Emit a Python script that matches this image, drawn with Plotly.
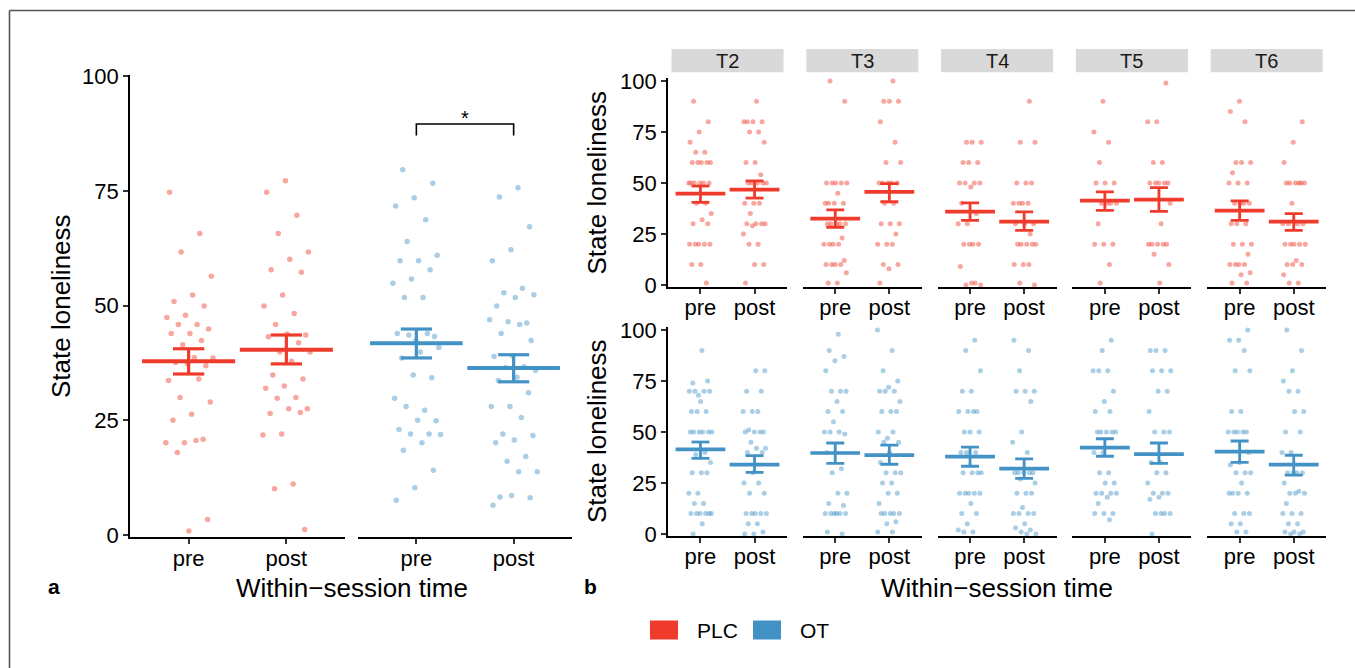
import plotly.graph_objects as go

W, H = 1355, 668
RED = "#EF3B2C"
BLUE = "#4292C6"
FONT = "Liberation Sans, Arial, Helvetica, sans-serif"

TIMES = ["pre", "post"]
GROUPS = ["PLC", "OT"]
SESSIONS = ["T2", "T3", "T4", "T5", "T6"]
Y_TICKS = [0, 25, 50, 75, 100]

# ---------------- panel a: values ----------------
A_PLC_PRE = [74.7, 65.7, 61.7, 56.4, 52.3, 50.9, 49.9, 47.9, 47.4, 45.9, 45.9, 44.9,
             43.9, 43.9, 42.4, 41.5, 38.6, 38.7, 37.6, 36.9, 37.4, 33.7, 34.0, 30.0,
             29.0, 26.3, 25.0, 20.9, 20.1, 20.1, 20.6, 18.0, 3.4, 0.9]
A_PLC_POST = [77.2, 74.7, 69.7, 65.7, 61.7, 60.1, 57.8, 57.3, 52.3, 49.9, 48.3, 45.9,
              43.6, 43.8, 43.2, 41.9, 39.9, 39.9, 37.9, 34.9, 34.0, 32.5, 32.0, 30.0,
              29.8, 27.5, 27.5, 26.5, 26.7, 22.0, 21.8, 11.1, 10.1, 1.2]
A_OT_PRE = [79.6, 76.7, 73.5, 71.7, 68.7, 64.0, 61.0, 59.8, 59.8, 57.8, 55.8, 54.9,
            51.8, 51.8, 43.3, 42.4, 43.9, 43.9, 43.6, 40.9, 39.9, 38.6, 34.3, 34.9,
            29.8, 27.2, 28.0, 24.9, 25.0, 23.0, 22.0, 22.0, 21.9, 20.1, 18.5, 14.1,
            10.3, 7.6]
A_OT_POST = [75.7, 73.7, 67.2, 62.2, 59.8, 53.8, 52.8, 52.4, 51.8, 49.9, 46.2, 46.5,
             46.9, 45.9, 43.9, 42.4, 39.0, 38.9, 36.7, 36.5, 35.9, 34.4, 33.7, 31.0,
             28.0, 28.0, 25.6, 22.0, 21.7, 20.7, 20.1, 17.1, 16.1, 13.8, 13.8, 8.3,
             8.1, 8.6, 6.5]
A_MEAN = {"PLC": [37.9, 40.4], "OT": [41.8, 36.4]}
A_SE_HI = {"PLC": [40.6, 43.6], "OT": [44.9, 39.3]}
A_SE_LO = {"PLC": [35.1, 37.3], "OT": [38.6, 33.4]}
SIG_BRACKET = [87.1, 89.6]   # leg bottom, bracket top (OT pre vs post)
SIG_LABEL = "*"

# ---------------- panel b: values ----------------
B_PLC_PRE = [
    [90, 80, 75, 70, 65, 65, 60, 60, 60, 60, 60, 50, 50, 50, 50, 50, 50, 40, 40, 35, 32,
     30, 30, 20, 20, 20, 20, 20, 10, 10, 1],
    [100, 90, 50, 50, 50, 50, 50, 45, 40, 40, 40, 40, 30, 30, 30, 30, 30, 23, 20, 20, 20,
     20, 12, 10, 10, 10, 10, 6, 1, 1],
    [70, 70, 70, 60, 60, 60, 50, 50, 50, 50, 48, 40, 35, 30, 30, 20, 20, 20, 20, 9, 1, 0,
     0, 1],
    [90, 75, 70, 60, 50, 50, 50, 40, 40, 40, 40, 30, 20, 20, 20, 10, 1],
    [90, 85, 80, 60, 60, 60, 55, 50, 50, 50, 40, 40, 40, 40, 30, 30, 30, 20, 20, 20, 15,
     10, 10, 10, 10, 6, 5, 1, 1],
]
B_PLC_POST = [
    [90, 80, 80, 80, 80, 75, 75, 70, 60, 60, 54, 50, 50, 50, 50, 50, 40, 40, 40, 35, 30,
     30, 30, 30, 29, 25, 20, 20, 10, 10, 1],
    [100, 90, 90, 90, 80, 70, 60, 60, 50, 50, 50, 50, 50, 40, 40, 30, 30, 30, 25, 20, 20,
     20, 10, 10, 8, 1],
    [90, 70, 70, 50, 50, 50, 40, 40, 40, 40, 30, 30, 30, 25, 20, 20, 20, 20, 20, 10, 10,
     10, 1, 0],
    [99, 80, 80, 60, 60, 50, 50, 50, 50, 50, 40, 30, 20, 20, 20, 20, 20, 15, 10, 1],
    [80, 70, 60, 50, 50, 50, 50, 50, 50, 40, 30, 30, 30, 30, 20, 20, 20, 20, 20, 12, 10,
     10, 10, 5, 1, 1],
]
B_OT_PRE = [
    [90, 74, 75, 68, 70, 70, 70, 70, 65, 60, 60, 60, 50, 50, 50, 50, 50, 50, 40, 39, 35,
     30, 30, 30, 20, 20, 15, 15, 10, 10, 10, 10, 10, 10, 5, 0],
    [98, 90, 87, 85, 80, 70, 70, 70, 65, 60, 60, 55, 50, 50, 50, 49, 40, 40, 32, 30, 20,
     20, 15, 14, 10, 10, 10, 10, 10, 10, 1, 0],
    [95, 90, 80, 70, 70, 60, 60, 60, 60, 50, 50, 50, 40, 40, 40, 30, 30, 30, 30, 20, 20,
     20, 20, 20, 15, 10, 10, 5, 2, 1, 1],
    [95, 90, 80, 80, 80, 70, 65, 60, 60, 50, 50, 50, 50, 50, 40, 40, 30, 30, 25, 25, 20,
     20, 20, 20, 18, 15, 10, 10, 10, 7],
    [100, 95, 95, 90, 80, 80, 60, 60, 50, 50, 50, 50, 50, 40, 35, 34, 30, 30, 30, 25, 20,
     20, 20, 20, 10, 10, 10, 5, 5, 1, 1],
]
B_OT_POST = [
    [80, 80, 70, 70, 60, 60, 60, 51, 50, 50, 50, 50, 45, 42, 42, 40, 40, 30, 25, 25, 20,
     20, 10, 10, 10, 10, 10, 5, 5, 1, 0, 0],
    [100, 90, 80, 75, 72, 70, 70, 70, 65, 60, 60, 60, 47, 50, 50, 45, 45, 40, 35, 30, 30,
     30, 25, 25, 20, 20, 15, 10, 10, 10, 10, 10, 6, 5, 1, 1],
    [95, 90, 80, 70, 70, 70, 65, 50, 45, 40, 30, 30, 30, 30, 30, 27, 25, 20, 20, 20, 13,
     10, 10, 10, 10, 5, 3, 2, 1, 0, 0],
    [90, 90, 90, 80, 80, 80, 70, 70, 60, 50, 50, 50, 35, 35, 30, 30, 25, 20, 20, 20, 18,
     17, 10, 10, 10, 10, 0],
    [100, 90, 80, 75, 70, 70, 60, 60, 50, 50, 40, 40, 30, 30, 30, 30, 25, 21, 20, 20, 20,
     15, 10, 10, 10, 5, 5, 1, 1, 1, 0, 0],
]
B_MEAN = {"PLC": [[44.8, 32.5, 35.9, 41.3, 36.4], [46.7, 45.6, 31.0, 41.8, 31.0]],
          "OT": [[41.5, 39.7, 37.9, 42.3, 40.4], [34.0, 38.7, 32.0, 39.2, 34.0]]}
B_SE_HI = {"PLC": [[48.5, 36.8, 40.2, 45.6, 41.2], [51.0, 49.7, 35.8, 47.7, 35.0]],
           "OT": [[45.1, 44.6, 42.6, 46.7, 45.6], [38.4, 43.6, 36.8, 44.6, 38.6]]}
B_SE_LO = {"PLC": [[40.5, 28.3, 31.7, 36.6, 31.7], [42.6, 40.8, 26.8, 36.1, 26.8]],
           "OT": [[37.1, 34.6, 33.2, 38.1, 35.1], [30.2, 34.2, 27.3, 34.6, 28.9]]}

COLORS = {"PLC": RED, "OT": BLUE}

# ---------------- helpers ----------------
def xd(a, b):
    return [a / W, b / W]


def yd(top, bottom):
    return [1 - bottom / H, 1 - top / H]


def jitter(n, width, phase):
    return [((i * 0.6180339887 + phase) % 1.0 - 0.5) * 2 * width for i in range(n)]


fig = go.Figure()
layout = {}

TICK_FONT = dict(family=FONT, size=22, color="black")
AX_LINE = dict(showline=True, linecolor="black", linewidth=1.8, ticks="outside",
               ticklen=5, tickwidth=1.8, tickcolor="#333333", showgrid=False,
               zeroline=False, fixedrange=True, tickfont=TICK_FONT, automargin=False)


def add_axes(k, xdom, ydom, yrange, show_y):
    xn = "xaxis" if k == 1 else f"xaxis{k}"
    yn = "yaxis" if k == 1 else f"yaxis{k}"
    ya = "y" if k == 1 else f"y{k}"
    xa = "x" if k == 1 else f"x{k}"
    layout[xn] = dict(AX_LINE, domain=xdom, anchor=ya, range=[0.4, 2.6],
                      tickvals=[1, 2], ticktext=TIMES, ticklabelstandoff=-5)
    if show_y:
        layout[yn] = dict(AX_LINE, domain=ydom, anchor=xa, range=yrange,
                          tickvals=Y_TICKS)
    else:
        layout[yn] = dict(domain=ydom, anchor=xa, range=yrange, visible=False,
                          fixedrange=True, automargin=False)
    return xa, ya


def add_group(xa, ya, values_by_time, means, his, los, color, jw, msize, hw, ww,
              mw, ew, phase):
    for t, vals in enumerate(values_by_time):
        xc = t + 1
        offs = jitter(len(vals), jw, phase + 0.37 * t)
        fig.add_trace(go.Scatter(
            x=[xc + o for o in offs], y=vals, xaxis=xa, yaxis=ya, mode="markers",
            marker=dict(color=color, size=msize, opacity=0.45, line=dict(width=0)),
            showlegend=False, hoverinfo="skip"))
    mx, my, ex, ey = [], [], [], []
    for t in range(len(values_by_time)):
        xc = t + 1
        mx += [xc - hw, xc + hw, None]
        my += [means[t], means[t], None]
        ex += [xc, xc, None, xc - ww, xc + ww, None, xc - ww, xc + ww, None]
        ey += [los[t], his[t], None, los[t], los[t], None, his[t], his[t], None]
    fig.add_trace(go.Scatter(x=ex, y=ey, xaxis=xa, yaxis=ya, mode="lines",
                             line=dict(color=color, width=ew), showlegend=False,
                             hoverinfo="skip"))
    fig.add_trace(go.Scatter(x=mx, y=my, xaxis=xa, yaxis=ya, mode="lines",
                             line=dict(color=color, width=mw), showlegend=False,
                             hoverinfo="skip"))


# ---------------- panel a ----------------
A_Y_RANGE = [-0.5, 100.3]
A_YDOM = yd(74.9, 537.3)
a_vals = {"PLC": [A_PLC_PRE, A_PLC_POST], "OT": [A_OT_PRE, A_OT_POST]}
a_xdoms = {"PLC": xd(130, 345), "OT": xd(358, 572)}
k = 1
a_axes = {}
for g in GROUPS:
    xa, ya = add_axes(k, a_xdoms[g], A_YDOM, A_Y_RANGE, show_y=(g == "PLC"))
    a_axes[g] = (xa, ya)
    add_group(xa, ya, a_vals[g], A_MEAN[g], A_SE_HI[g], A_SE_LO[g], COLORS[g],
              jw=0.25, msize=5.5, hw=0.476, ww=0.16, mw=4, ew=3.2, phase=0.11 * k)
    k += 1

# significance bracket on OT pre vs post
xa, ya = a_axes["OT"]
fig.add_trace(go.Scatter(x=[1, 1, 2, 2],
                         y=[SIG_BRACKET[0], SIG_BRACKET[1], SIG_BRACKET[1], SIG_BRACKET[0]],
                         xaxis=xa, yaxis=ya, mode="lines",
                         line=dict(color="black", width=1.6), showlegend=False,
                         hoverinfo="skip"))

# ---------------- panel b ----------------
B_Y_RANGE = [-1.0, 101.5]
row_ydom = {"PLC": yd(77.9, 287.0), "OT": yd(327.0, 536.0)}
b_vals = {"PLC": (B_PLC_PRE, B_PLC_POST), "OT": (B_OT_PRE, B_OT_POST)}
COL_START, COL_STEP, COL_W = 668.0, 134.8, 119.0
for g in GROUPS:
    for s, sess in enumerate(SESSIONS):
        x0 = COL_START + COL_STEP * s
        xa, ya = add_axes(k, xd(x0, x0 + COL_W), row_ydom[g], B_Y_RANGE, show_y=(s == 0))
        pre, post = b_vals[g]
        add_group(xa, ya, [pre[s], post[s]],
                  [B_MEAN[g][0][s], B_MEAN[g][1][s]],
                  [B_SE_HI[g][0][s], B_SE_HI[g][1][s]],
                  [B_SE_LO[g][0][s], B_SE_LO[g][1][s]],
                  COLORS[g], jw=0.22, msize=5, hw=0.46, ww=0.166, mw=3.7, ew=2.8,
                  phase=0.07 * k)
        k += 1

# ---------------- decorations ----------------
shapes = []
annotations = []

# frame (top and left edges)
shapes.append(dict(type="line", xref="paper", yref="paper", x0=9.5 / W, x1=1.0,
                   y0=1 - 10.5 / H, y1=1 - 10.5 / H, line=dict(color="#555555", width=1.6)))
shapes.append(dict(type="line", xref="paper", yref="paper", x0=9.5 / W, x1=9.5 / W,
                   y0=0, y1=1 - 10.5 / H, line=dict(color="#555555", width=1.6)))

# strips
for s, sess in enumerate(SESSIONS):
    x0 = COL_START + COL_STEP * s
    shapes.append(dict(type="rect", xref="paper", yref="paper",
                       x0=(x0 + 3.5) / W, x1=(x0 + COL_W - 3.5) / W,
                       y0=1 - 72.3 / H, y1=1 - 49 / H,
                       fillcolor="#D9D9D9", line=dict(width=0), layer="below"))
    annotations.append(dict(text=sess, xref="paper", yref="paper",
                            x=(x0 + COL_W / 2) / W, y=1 - 61 / H, showarrow=False,
                            xanchor="center", yanchor="middle",
                            font=dict(family=FONT, size=20, color="#1A1A1A")))

# axis titles
def title(text, x, y, angle=0, size=26):
    annotations.append(dict(text=text, xref="paper", yref="paper", x=x / W, y=1 - y / H,
                            showarrow=False, xanchor="center", yanchor="middle",
                            textangle=angle,
                            font=dict(family=FONT, size=size, color="black")))


title("State loneliness", 61, 306, angle=-90)
title("State loneliness", 597, 182.5, angle=-90)
title("State loneliness", 597, 431, angle=-90)
title("Within\u2212session time", 352, 588)
title("Within\u2212session time", 997, 588)

# panel letters
for letter, lx in (("a", 53.5), ("b", 590)):
    annotations.append(dict(text=f"<b>{letter}</b>", xref="paper", yref="paper",
                            x=lx / W, y=1 - 586 / H, showarrow=False,
                            xanchor="center", yanchor="middle",
                            font=dict(family=FONT, size=21, color="black")))

# significance star
xa, ya = a_axes["OT"]
annotations.append(dict(text=SIG_LABEL, xref=xa, yref=ya, x=1.5,
                        y=SIG_BRACKET[1] + 1.3, showarrow=False,
                        xanchor="center", yanchor="middle",
                        font=dict(family=FONT, size=20, color="black")))

# legend (manual keys)
legend_x = {"PLC": 650, "OT": 753}
for g in GROUPS:
    lx = legend_x[g]
    shapes.append(dict(type="rect", xref="paper", yref="paper",
                       x0=lx / W, x1=(lx + 28) / W, y0=1 - 639.5 / H, y1=1 - 620.5 / H,
                       fillcolor=COLORS[g], line=dict(width=0)))
    annotations.append(dict(text=g, xref="paper", yref="paper", x=(lx + 45) / W,
                            y=1 - 630.5 / H, showarrow=False, xanchor="left",
                            yanchor="middle",
                            font=dict(family=FONT, size=21, color="black")))

fig.update_layout(
    width=W, height=H, margin=dict(l=0, r=0, t=0, b=0, pad=0, autoexpand=False),
    paper_bgcolor="white", plot_bgcolor="rgba(0,0,0,0)",
    showlegend=False, shapes=shapes, annotations=annotations,
    font=dict(family=FONT, color="black"),
    **layout)

fig.write_html(
    "out.html",
    config={"displayModeBar": False, "responsive": False},
    post_script="document.body.style.margin='0';document.body.style.padding='0';"
                "document.body.style.overflow='hidden';"
                "document.documentElement.style.overflow='hidden';",
)
